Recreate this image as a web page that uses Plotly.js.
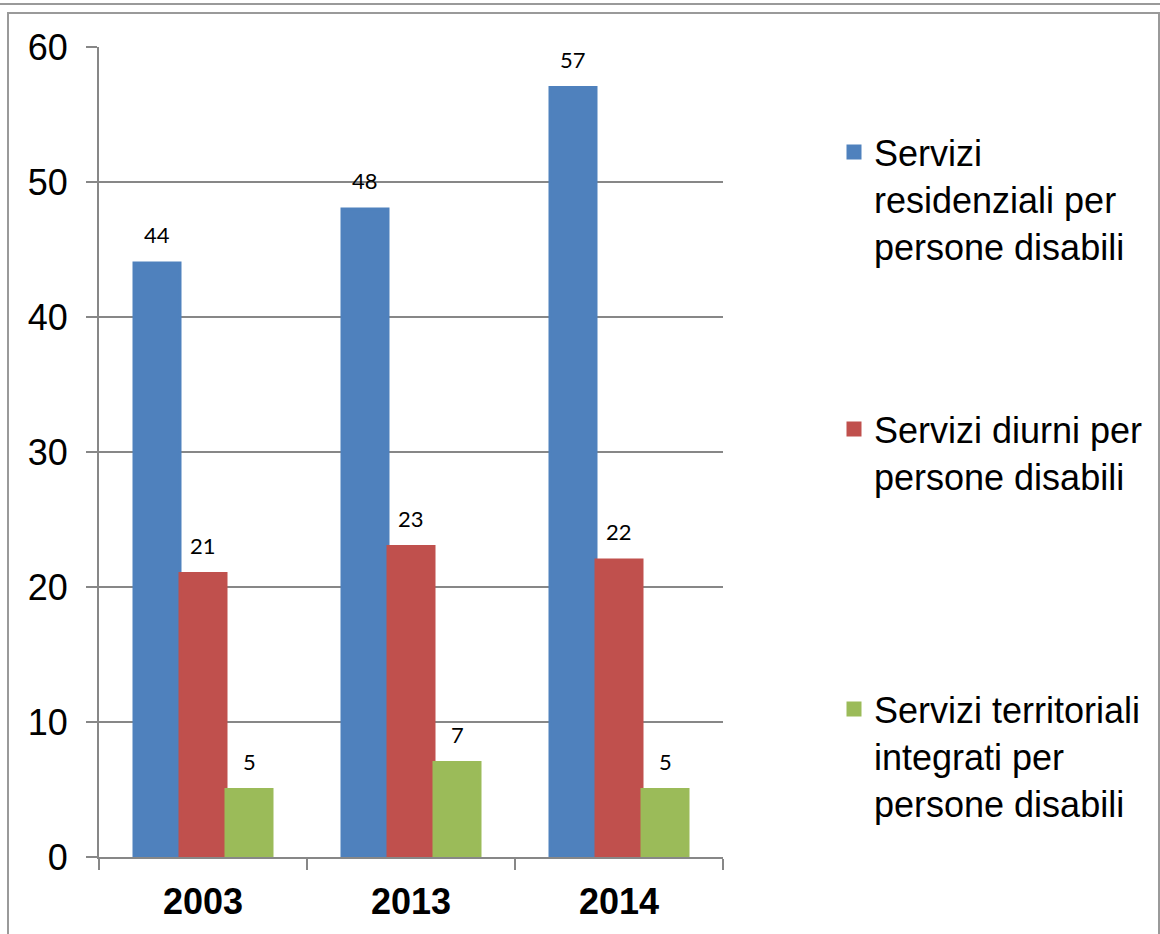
<!DOCTYPE html>
<html>
<head>
<meta charset="utf-8">
<script src="https://cdn.plot.ly/plotly-3.0.1.min.js"></script>
<style>
  html, body { margin: 0; padding: 0; background: #ffffff; }
  #topline { position: absolute; left: 0; top: 3px; width: 1160px; height: 0; border-top: 2px solid #9a9a9a; }
  #frame { position: absolute; left: 7px; top: 12px; width: 1149px; height: 940px; border: 2px solid #9a9a9a; border-bottom: none; }
  #chart { position: absolute; left: 0; top: 0; width: 1160px; height: 934px; }
</style>
</head>
<body>
<div id="topline"></div>
<div id="frame"></div>
<div id="chart"></div>
<script>
const categories = ['2003', '2013', '2014'];
const seriesNames = [
  'Servizi<br>residenziali per<br>persone disabili',
  'Servizi diurni per<br>persone disabili',
  'Servizi territoriali<br>integrati per<br>persone disabili'
];
const residenziali = [44, 48, 57];
const diurni = [21, 23, 22];
const territoriali = [5, 7, 5];
const seriesColors = ['#4F81BD', '#C0504D', '#9BBB59'];
const yTickVals = [0, 10, 20, 30, 40, 50, 60];

const W = 1160, H = 934;
const margin = {l: 99, r: 437, t: 47, b: 77, pad: 0};
const bargap = 0.3365;

const seriesValues = [residenziali, diurni, territoriali];
const legendIds = ['legend', 'legend2', 'legend3'];
const legendTops = [122, 399, 679];

const traces = seriesValues.map((vals, k) => ({
  type: 'bar',
  name: seriesNames[k],
  x: categories,
  y: vals,
  marker: {color: seriesColors[k], line: {color: seriesColors[k], width: 3}},
  legend: legendIds[k],
  hoverinfo: 'x+y'
}));

// data labels placed above each bar via annotations (x given as category index)
const plotW = W - margin.l - margin.r;
const catPx = plotW / categories.length;
const barPx = catPx * (1 - bargap) / seriesValues.length;
const annotations = [];
seriesValues.forEach((vals, k) => {
  vals.forEach((v, i) => {
    annotations.push({
      x: i, y: v, xref: 'x', yref: 'y',
      text: String(v), showarrow: false,
      xanchor: 'center', yanchor: 'bottom',
      xshift: (k - (seriesValues.length - 1) / 2) * barPx,
      yshift: 13,
      font: {family: 'Lato, "Open Sans", sans-serif', size: 22, color: '#000000'}
    });
  });
});

const legendBase = {
  xref: 'container', yref: 'container',
  x: 834 / W, xanchor: 'left', yanchor: 'top',
  valign: 'top', bgcolor: 'rgba(0,0,0,0)', borderwidth: 0,
  font: {family: '"Liberation Sans", Arial, sans-serif', size: 36, color: '#000000'},
  itemclick: false, itemdoubleclick: false
};

const layout = {
  width: W, height: H,
  margin: margin,
  paper_bgcolor: 'rgba(0,0,0,0)',
  plot_bgcolor: 'rgba(0,0,0,0)',
  barmode: 'group',
  bargap: bargap,
  bargroupgap: 0,
  showlegend: true,
  font: {family: '"Liberation Sans", Arial, sans-serif', color: '#000000'},
  xaxis: {
    type: 'category',
    range: [-0.5, categories.length - 0.5],
    autorange: false,
    tickson: 'boundaries',
    ticks: 'outside', ticklen: 11, tickwidth: 2, tickcolor: '#878787',
    showline: true, linecolor: '#878787', linewidth: 2,
    showgrid: false, zeroline: false,
    tickfont: {family: '"Liberation Sans", Arial, sans-serif', size: 36, color: '#000000', weight: 'bold'},
    ticklabelstandoff: 12
  },
  yaxis: {
    range: [0, 60],
    autorange: false,
    tickmode: 'array', tickvals: yTickVals,
    ticks: 'outside', ticklen: 11, tickwidth: 2, tickcolor: '#878787',
    showline: true, linecolor: '#878787', linewidth: 2,
    showgrid: true, gridcolor: '#878787', gridwidth: 2,
    zeroline: false,
    tickfont: {family: '"Liberation Sans", Arial, sans-serif', size: 36, color: '#000000'},
    ticklabelstandoff: 11
  },
  annotations: annotations
};
legendIds.forEach((id, k) => {
  layout[id] = Object.assign({}, legendBase, {y: 1 - legendTops[k] / H});
});

Plotly.newPlot('chart', traces, layout, {displayModeBar: false, responsive: false});
</script>
</body>
</html>
